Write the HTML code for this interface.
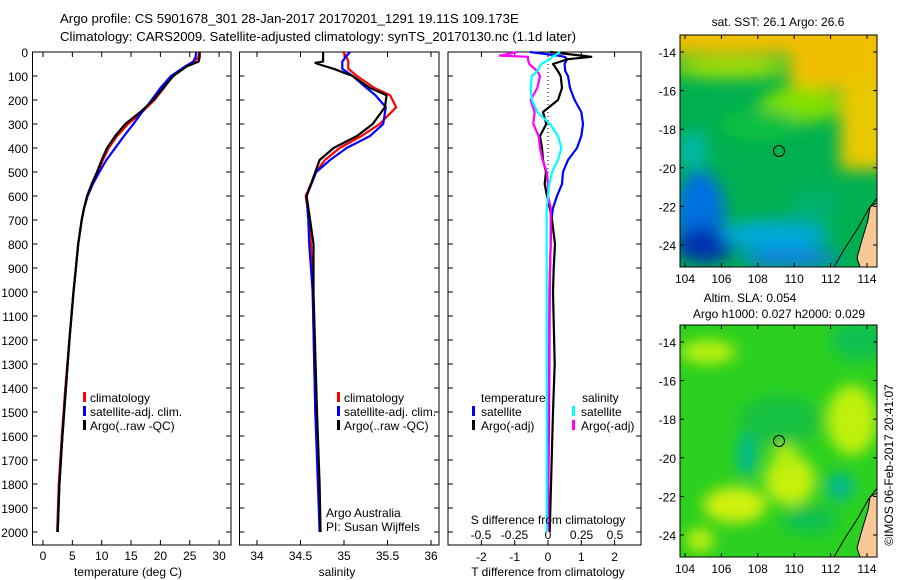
<!DOCTYPE html>
<html><head><meta charset="utf-8">
<style>
body{margin:0;background:#fff;}
svg{display:block;font-family:"Liberation Sans",sans-serif;font-size:12px;}
</style></head>
<body>
<svg id="c" width="900" height="580" viewBox="0 0 900 580">
<defs>
<filter id="blur" x="-20%" y="-20%" width="140%" height="140%"><feGaussianBlur stdDeviation="8"/></filter>
<filter id="blur2" x="-20%" y="-20%" width="140%" height="140%"><feGaussianBlur stdDeviation="7"/></filter>
<clipPath id="m1"><rect x="680" y="35" width="197" height="232"/></clipPath>
<clipPath id="m2"><rect x="680" y="325" width="197" height="232"/></clipPath>
</defs>
<text x="60" y="23" style="font-size:13.2px">Argo profile: CS 5901678_301 28-Jan-2017 20170201_1291 19.11S 109.173E</text>
<text x="60" y="41" style="font-size:13.2px">Climatology: CARS2009. Satellite-adjusted climatology: synTS_20170130.nc (1.1d later)</text>
<g id="plots"></g>
<!-- SST map -->
<g clip-path="url(#m1)">
<rect x="680" y="35" width="197" height="232" fill="#00b050"/>
<g filter="url(#blur)">
<rect x="660" y="15" width="240" height="40" fill="#f0c000"/>
<rect x="790" y="40" width="110" height="50" fill="#f0c000"/>
<rect x="840" y="80" width="60" height="90" fill="#e8c800"/>
<ellipse cx="730" cy="68" rx="60" ry="10" fill="#a8e000"/>
<ellipse cx="800" cy="105" rx="40" ry="18" fill="#80e000"/>
<ellipse cx="760" cy="125" rx="40" ry="15" fill="#10c040"/>
<ellipse cx="693" cy="150" rx="14" ry="18" fill="#00b8b0"/>
<ellipse cx="700" cy="215" rx="25" ry="45" fill="#0070e0"/>
<ellipse cx="705" cy="245" rx="30" ry="18" fill="#0030b0"/>
<ellipse cx="775" cy="235" rx="55" ry="15" fill="#00a8d8"/>
<ellipse cx="790" cy="258" rx="50" ry="10" fill="#1080e0"/>
<ellipse cx="815" cy="205" rx="25" ry="15" fill="#00b070"/>
</g>
</g>
<rect x="680" y="35" width="197" height="232" fill="none" stroke="#000"/>
<path d="M877,203 L870,207 L868,220 L862,240 L857,258 L860,267 L877,267 Z" fill="#f8c896" stroke="#000"/>
<path d="M834,267 L845,248 L858,228 L868,210 L877,198" fill="none" stroke="#000"/>
<circle cx="779" cy="151" r="5.5" fill="none" stroke="#000"/>
<text x="778" y="26" text-anchor="middle">sat. SST: 26.1 Argo: 26.6</text>
<!-- SLA map -->
<g clip-path="url(#m2)">
<rect x="680" y="325" width="197" height="232" fill="#2cd020"/>
<g filter="url(#blur2)">
<ellipse cx="708" cy="352" rx="28" ry="12" fill="#b8f010"/>
<ellipse cx="852" cy="420" rx="25" ry="35" fill="#c0f010"/>
<ellipse cx="735" cy="505" rx="32" ry="18" fill="#d0f010"/>
<ellipse cx="790" cy="480" rx="25" ry="25" fill="#c8f010"/>
<ellipse cx="785" cy="455" rx="12" ry="15" fill="#b0ec10"/>
<ellipse cx="780" cy="420" rx="40" ry="25" fill="#18c040"/>
<ellipse cx="860" cy="340" rx="30" ry="20" fill="#10c050"/>
<ellipse cx="747" cy="455" rx="10" ry="22" fill="#00b890"/>
<ellipse cx="840" cy="487" rx="14" ry="14" fill="#00b890"/>
<ellipse cx="810" cy="520" rx="28" ry="14" fill="#10c050"/>
<ellipse cx="700" cy="540" rx="14" ry="12" fill="#c0f010"/>
</g>
</g>
<rect x="680" y="325" width="197" height="232" fill="none" stroke="#000"/>
<path d="M877,493 L870,497 L868,510 L862,530 L857,548 L860,557 L877,557 Z" fill="#f8c896" stroke="#000"/>
<path d="M834,557 L845,538 L858,518 L868,500 L877,488" fill="none" stroke="#000"/>
<circle cx="779" cy="441" r="5.5" fill="none" stroke="#000"/>
<text x="750" y="302" text-anchor="middle">Altim. SLA: 0.054</text>
<text x="779" y="318" text-anchor="middle">Argo h1000: 0.027 h2000: 0.029</text>
<text transform="translate(893,465) rotate(-90)" text-anchor="middle">©IMOS 06-Feb-2017 20:41:07</text>
<g id="maps"></g>
</svg>
<script>
// ---- data ----
const depthTicks = [0,100,200,300,400,500,600,700,800,900,1000,1100,1200,1300,1400,1500,1600,1700,1800,1900,2000];
const tempTicks = [0,5,10,15,20,25,30];
const salTicks = [34,34.5,35,35.5,36];
const tdiffTicks = [-2,-1,0,1,2];
const sdiffTicks = [-0.5,-0.25,0,0.25,0.5];
const lonTicks = [104,106,108,110,112,114];
const latTicks = [-14,-16,-18,-20,-22,-24];

const tDepth = [0,20,40,60,100,150,200,250,300,350,400,450,500,550,600,650,700,800,900,1000,1200,1400,1600,1800,2000];
const tArgo  = [26.7,26.7,26.5,24.5,22.2,20.5,18.8,16.6,14.0,12.3,10.9,10.0,9.2,8.3,7.5,7.0,6.6,6.0,5.6,5.2,4.5,3.9,3.3,2.8,2.5];
const tClim  = [26.6,26.5,25.8,24.3,22.0,20.6,19.0,16.9,14.5,12.6,11.2,10.2,9.4,8.4,7.6,7.0,6.6,6.0,5.6,5.2,4.5,3.8,3.2,2.7,2.4];
const tSat   = [26.1,26.0,25.6,24.2,21.8,20.0,18.5,16.9,15.4,13.8,12.3,10.8,9.6,8.5,7.6,7.0,6.6,6.0,5.6,5.2,4.5,3.9,3.3,2.8,2.5];

const sDepth = [0,20,40,45,50,70,100,150,180,230,300,350,400,450,500,600,700,800,1000,1500,1800,2000];
const sArgo = [34.76,34.76,34.76,34.67,34.70,34.88,35.10,35.30,35.49,35.47,35.33,35.15,34.88,34.72,34.67,34.57,34.61,34.65,34.65,34.69,34.72,34.73];
const sClim = [34.99,35.03,35.05,35.05,35.05,35.05,35.15,35.35,35.53,35.60,35.41,35.20,34.95,34.78,34.68,34.56,34.60,34.62,34.64,34.67,34.71,34.73];
const sSat  = [35.07,35.02,34.98,34.98,34.98,34.98,35.10,35.26,35.36,35.48,35.45,35.30,35.03,34.84,34.68,34.57,34.59,34.60,34.64,34.67,34.70,34.72];

const dDepth = [0,15,20,30,50,80,100,150,200,250,300,350,400,450,500,550,600,650,700,800,900,1000,1300,1500,2000];
const tdSat  = [-0.54,0.3,0.5,0.57,0.5,0.52,0.6,0.66,0.8,1.0,1.05,1.0,0.87,0.6,0.45,0.42,0.27,0.15,0.1,0.08,0.06,0.05,0.04,0.03,0.0];
const tdArgo = [0.06,1.0,1.3,0.6,0.15,0.3,0.38,0.42,0.3,-0.15,-0.05,-0.24,-0.18,-0.15,-0.06,-0.1,-0.03,0.05,0.12,0.21,0.17,0.15,0.2,0.15,0.05];
const sdSat  = [0.09,0.05,0.03,0.015,-0.05,-0.08,-0.12,-0.13,-0.12,-0.08,0.015,0.075,0.1,0.075,0.03,0.01,0.0,-0.01,-0.01,-0.01,-0.01,-0.01,-0.01,-0.01,-0.01];
const sdArgo = [-0.23,-0.36,-0.15,-0.15,-0.14,-0.08,-0.06,-0.08,-0.13,-0.1,-0.11,-0.07,-0.06,-0.04,-0.01,0.0,0.0,0.02,0.02,0.02,0.015,0.01,0.008,0.005,0.0];

// ---- drawing ----
const NS='http://www.w3.org/2000/svg';
const root=document.getElementById('plots');
function mk(tag,attrs,parent){const e=document.createElementNS(NS,tag);for(const k in attrs)e.setAttribute(k,attrs[k]);(parent||root).appendChild(e);return e;}
const Y0=52,Y1=545;
function yD(d){return Y0+d*0.24;}
function xT(v){return 43+v*5.87;}
function xS(v){return 344+(v-35)*87;}
function xTd(v){return 548+v*33.3;}
function xSd(v){return 548+v*134;}

function frame(x0,x1,name){
  const r=mk('rect',{x:x0,y:Y0,width:x1-x0,height:Y1-Y0,fill:'none',stroke:'#000'});
  
  
  depthTicks.forEach(d=>{
    const t=mk('line',{x1:x0,x2:x0+5,y1:yD(d),y2:yD(d),stroke:'#000'});
    
    
    const t2=mk('line',{x1:x1,x2:x1-5,y1:yD(d),y2:yD(d),stroke:'#000'});
    
    
  });
}
function xticks(ticks,fx,ylab,name,labels){
  ticks.forEach((v,i)=>{
    const x=fx(v);
    const a=mk('line',{x1:x,x2:x,y1:Y1,y2:Y1-5,stroke:'#000'});
    
    
    const b=mk('line',{x1:x,x2:x,y1:Y0,y2:Y0+5,stroke:'#000'});
    
    
    if(ylab){const t=mk('text',{x:x,y:ylab,'text-anchor':'middle'});t.textContent=labels?labels[i]:String(v);
      
      }
  });
}
function line(depths,vals,fx,color,name){
  let p='';
  depths.forEach((d,i)=>{p+=(i?'L':'M')+fx(vals[i]).toFixed(1)+','+yD(d).toFixed(1);});
  const e=mk('path',{d:p,fill:'none',stroke:color,'stroke-width':2.2,'stroke-linejoin':'round'});
  
  
}
function txt(x,y,s,name,anchor){const t=mk('text',{x:x,y:y,'text-anchor':anchor||'start'});t.textContent=s;
  
  return t;}
function marker(x,y,color,name){const r=mk('rect',{x:x,y:y-10,width:3,height:10,fill:color});
  
  }

// panel 1
frame(32.5,231,'temperature-panel');
depthTicks.forEach(d=>{const t=txt(28,yD(d)+5,String(d),'depth-tick-label','end');});
xticks(tempTicks,xT,560,'temperature');
line(tDepth,tClim,xT,'#f00','temperature-climatology-line');
line(tDepth,tSat,xT,'#00f','temperature-satellite-line');
line(tDepth,tArgo,xT,'#000','temperature-argo-line');
txt(128,576,'temperature (deg C)','temperature-axis-title','middle');
marker(83,402,'#f00','legend-climatology-marker');txt(90,402,'climatology','legend-climatology');
marker(83,416,'#00f','legend-satellite-marker');txt(90,416,'satellite-adj. clim.','legend-satellite');
marker(83,430,'#000','legend-argo-marker');txt(90,430,'Argo(..raw -QC)','legend-argo');

// panel 2
frame(239.5,439,'salinity-panel');
xticks(salTicks,xS,560,'salinity');
line(sDepth,sClim,xS,'#f00','salinity-climatology-line');
line(sDepth,sSat,xS,'#00f','salinity-satellite-line');
line(sDepth,sArgo,xS,'#000','salinity-argo-line');
txt(337,576,'salinity','salinity-axis-title','middle');
marker(337,402,'#f00','legend2-climatology-marker');txt(344,402,'climatology','legend2-climatology');
marker(337,416,'#00f','legend2-satellite-marker');txt(344,416,'satellite-adj. clim.','legend2-satellite');
marker(337,430,'#000','legend2-argo-marker');txt(344,430,'Argo(..raw -QC)','legend2-argo');
txt(326,517,'Argo Australia','argo-australia-label');
txt(326,531,'PI: Susan Wijffels','pi-label');

// panel 3
frame(448,641,'difference-panel');
xticks(tdiffTicks,xTd,561,'t-difference');
sdiffTicks.forEach(v=>{const t=txt(xSd(v),539,String(v),'s-difference-tick-label','middle');});
const dl=mk('line',{x1:548,x2:548,y1:yD(0),y2:yD(620),stroke:'#000','stroke-dasharray':'1,3'});


line(dDepth,tdSat,xTd,'#00f','t-diff-satellite-line');
line(dDepth,tdArgo,xTd,'#000','t-diff-argo-line');
line(dDepth,sdArgo,xSd,'#f0f','s-diff-argo-line');
line(dDepth,sdSat,xSd,'#0ff','s-diff-satellite-line');
txt(548,524,'S difference from climatology','s-difference-axis-title','middle');
txt(548,576,'T difference from climatology','t-difference-axis-title','middle');
txt(481,402,'temperature','legend3-temperature-heading');
marker(472,416,'#00f','legend3-t-satellite-marker');txt(481,416,'satellite','legend3-t-satellite');
marker(472,430,'#000','legend3-t-argo-marker');txt(481,430,'Argo(-adj)','legend3-t-argo');
txt(582,402,'salinity','legend3-salinity-heading');
marker(572,416,'#0ff','legend3-s-satellite-marker');txt(581,416,'satellite','legend3-s-satellite');
marker(572,430,'#f0f','legend3-s-argo-marker');txt(581,430,'Argo(-adj)','legend3-s-argo');

// map axes
const mroot=document.getElementById('maps');
function xLon(v){return 685+(v-104)*18.2;}
function yLat(v,off){return off+52+(-14-v)*19.3;}
[0,290].forEach(off=>{
  lonTicks.forEach(v=>{
    const x=xLon(v);
    const a=mk('line',{x1:x,x2:x,y1:off+267,y2:off+263,stroke:'#000'},mroot);
    
    
    const b=mk('line',{x1:x,x2:x,y1:off+35,y2:off+39,stroke:'#000'},mroot);
    
    
    const t=mk('text',{x:x,y:off+283,'text-anchor':'middle'},mroot);t.textContent=String(v);
    
    
  });
  latTicks.forEach(v=>{
    const y=yLat(v,off);
    const a=mk('line',{x1:680,x2:684,y1:y,y2:y,stroke:'#000'},mroot);
    
    
    const b=mk('line',{x1:877,x2:873,y1:y,y2:y,stroke:'#000'},mroot);
    
    
    const t=mk('text',{x:676,y:y+5,'text-anchor':'end'},mroot);t.textContent=String(v);
    
    
  });
});
</script>
</body></html>
